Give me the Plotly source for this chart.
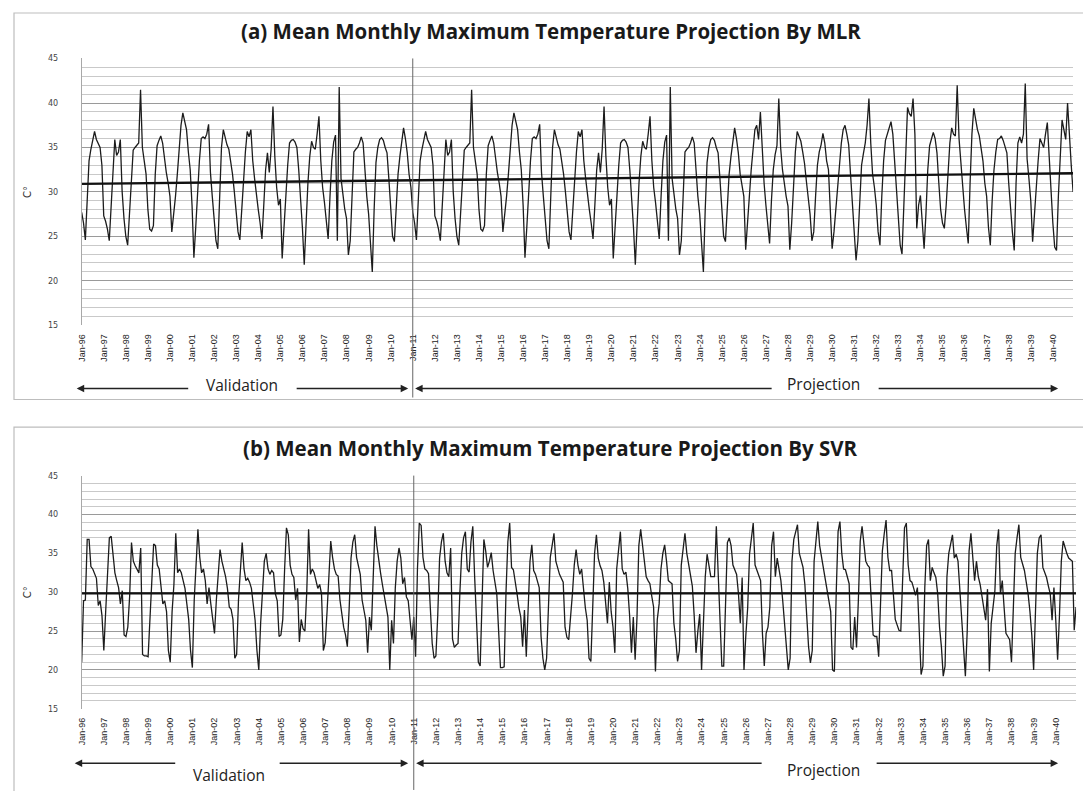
import plotly.graph_objects as go

W, H = 1091, 791          # target window
OFF = 8                   # page body margin offset
FW, FH = W - OFF, H - OFF  # figure size so that the figure ends at the window edge

# ---------------- data ----------------
tick_labels = ["Jan-96", "Jan-97", "Jan-98", "Jan-99", "Jan-00", "Jan-01", "Jan-02", "Jan-03",
               "Jan-04", "Jan-05", "Jan-06", "Jan-07", "Jan-08", "Jan-09", "Jan-10", "Jan-11",
               "Jan-12", "Jan-13", "Jan-14", "Jan-15", "Jan-16", "Jan-17", "Jan-18", "Jan-19",
               "Jan-20", "Jan-21", "Jan-22", "Jan-23", "Jan-24", "Jan-25", "Jan-26", "Jan-27",
               "Jan-28", "Jan-29", "Jan-30", "Jan-31", "Jan-32", "Jan-33", "Jan-34", "Jan-35",
               "Jan-36", "Jan-37", "Jan-38", "Jan-39", "Jan-40"]

# (a) MLR monthly values, one row per year
mlr_1996_2010 = [
    [27.7, 26.5, 24.6, 29.5, 33.5, 34.8, 36.0, 36.8, 35.9, 35.5, 35.0, 33.0],
    [27.3, 26.7, 25.8, 24.5, 28.5, 33.0, 35.9, 34.1, 34.5, 35.9, 30.0, 27.0],
    [25.0, 24.0, 27.5, 32.0, 34.7, 35.0, 35.2, 35.5, 41.5, 35.0, 33.5, 32.0],
    [28.0, 25.8, 25.6, 26.2, 32.0, 35.2, 35.8, 36.3, 35.5, 33.5, 32.2, 31.0],
    [29.5, 25.5, 27.2, 29.5, 32.0, 35.0, 37.5, 38.9, 38.0, 37.0, 34.5, 32.5],
    [28.5, 22.6, 26.0, 30.2, 33.5, 36.0, 36.2, 36.0, 36.5, 37.6, 32.2, 29.5],
    [26.5, 24.5, 23.6, 30.7, 35.0, 37.0, 36.0, 35.3, 34.8, 33.4, 32.0, 30.0],
    [28.1, 25.5, 24.6, 28.0, 31.5, 34.5, 36.8, 36.2, 37.0, 33.5, 31.5, 29.5],
    [28.0, 26.5, 24.7, 28.5, 32.5, 34.4, 32.2, 34.8, 39.6, 34.0, 30.5, 28.5],
    [29.2, 22.5, 25.5, 29.5, 33.0, 35.5, 35.8, 35.9, 35.6, 35.0, 32.5, 29.5],
    [26.0, 21.8, 27.0, 31.0, 34.0, 35.7, 35.0, 34.8, 36.5, 38.5, 33.5, 30.5],
    [28.8, 26.5, 24.7, 29.5, 33.5, 35.6, 36.4, 24.5, 41.8, 31.5, 29.5, 28.1],
    [27.0, 22.9, 24.5, 30.5, 34.5, 34.8, 35.0, 35.5, 36.2, 35.5, 32.0, 29.5],
    [27.5, 24.0, 21.0, 28.0, 33.3, 35.0, 35.9, 36.1, 35.8, 35.0, 34.4, 31.5],
    [28.8, 25.0, 24.4, 28.5, 32.0, 34.0, 35.5, 37.2, 36.0, 34.4, 32.0, 30.5],
]
mlr_2011_2025 = [
    [27.7, 26.5, 24.6, 29.5, 33.5, 34.8, 36.0, 36.8, 35.9, 35.5, 35.0, 33.0],
    [27.3, 26.7, 25.8, 24.5, 28.5, 33.0, 35.9, 34.1, 34.5, 35.9, 30.0, 27.0],
    [25.0, 24.0, 27.5, 32.0, 34.7, 35.0, 35.2, 35.5, 41.5, 35.0, 33.5, 32.0],
    [28.0, 25.8, 25.6, 26.2, 32.0, 35.2, 35.8, 36.3, 35.5, 33.5, 32.2, 31.0],
    [29.5, 25.5, 27.2, 29.5, 32.0, 35.0, 37.5, 38.9, 38.0, 37.0, 34.5, 32.5],
    [28.5, 22.6, 26.0, 30.2, 33.5, 36.0, 36.2, 36.0, 36.5, 37.6, 32.2, 29.5],
    [26.5, 24.5, 23.6, 30.7, 35.0, 37.0, 36.0, 35.3, 34.8, 33.4, 32.0, 30.0],
    [28.1, 25.5, 24.6, 28.0, 31.5, 34.5, 36.8, 36.2, 37.0, 33.5, 31.5, 29.5],
    [28.0, 26.5, 24.7, 28.5, 32.5, 34.4, 32.2, 34.8, 39.6, 34.0, 30.5, 28.5],
    [29.2, 22.5, 25.5, 29.5, 33.0, 35.5, 35.8, 35.9, 35.6, 35.0, 32.5, 29.5],
    [26.0, 21.8, 27.0, 31.0, 34.0, 35.7, 35.0, 34.8, 36.5, 38.5, 33.5, 30.5],
    [28.8, 26.5, 24.7, 29.5, 33.5, 35.6, 36.4, 24.5, 41.8, 31.5, 29.5, 28.1],
    [27.0, 22.9, 24.5, 30.5, 34.5, 34.8, 35.0, 35.5, 36.2, 35.5, 32.0, 29.5],
    [27.5, 24.0, 21.0, 28.0, 33.3, 35.0, 35.9, 36.1, 35.8, 35.0, 34.4, 31.5],
    [28.8, 25.0, 24.4, 28.5, 32.0, 34.0, 35.5, 37.2, 36.0, 34.4, 32.0, 30.5],
]
mlr_2026_2040 = [
    [29.5, 23.5, 26.0, 29.5, 32.5, 35.0, 37.0, 37.5, 35.9, 39.0, 34.0, 31.0],
    [28.5, 26.5, 24.2, 29.0, 32.5, 34.2, 35.2, 40.5, 35.0, 32.5, 30.7, 29.5],
    [28.4, 23.5, 26.5, 31.0, 34.5, 36.8, 36.2, 35.7, 34.5, 33.2, 31.2, 29.2],
    [27.5, 24.5, 25.5, 29.5, 33.0, 34.5, 35.3, 36.6, 35.5, 33.5, 32.5, 28.0],
    [23.6, 25.5, 28.0, 31.5, 34.0, 35.5, 37.0, 37.5, 36.5, 35.3, 32.0, 29.0],
    [26.0, 22.3, 24.5, 29.5, 33.0, 34.3, 35.5, 37.5, 40.5, 35.5, 32.0, 30.5],
    [28.5, 25.5, 24.0, 29.5, 33.5, 35.8, 36.5, 37.2, 37.9, 36.5, 33.5, 29.6],
    [27.0, 24.0, 23.0, 29.0, 35.5, 39.5, 38.8, 38.5, 40.5, 36.5, 25.9, 28.5],
    [29.6, 26.5, 23.6, 27.5, 32.5, 35.2, 36.0, 36.7, 36.0, 34.4, 31.0, 28.0],
    [26.5, 25.9, 28.5, 32.0, 35.5, 37.2, 36.5, 36.3, 42.0, 36.0, 33.0, 30.0],
    [28.0, 26.0, 24.2, 31.0, 36.5, 39.4, 38.0, 37.0, 36.3, 35.0, 33.5, 31.0],
    [29.5, 26.0, 24.0, 29.0, 32.5, 34.5, 35.9, 36.0, 36.3, 35.8, 35.2, 34.4],
    [31.0, 27.7, 25.5, 23.4, 31.0, 35.5, 36.2, 35.5, 36.5, 42.2, 33.7, 31.5],
    [29.0, 24.4, 27.0, 30.5, 33.5, 36.0, 35.5, 35.0, 36.5, 37.8, 34.0, 29.4],
    [26.5, 23.8, 23.4, 29.5, 34.5, 38.1, 37.0, 35.9, 40.0, 36.0, 33.0, 30.0],
]
mlr_trend_start = 30.9
mlr_trend_end = 32.1

# (b) SVR monthly values, one row per year
svr_1996_2010 = [
    [21.0, 28.9, 29.0, 36.8, 36.8, 33.3, 33.0, 32.5, 31.8, 28.3, 28.9, 27.0],
    [22.5, 27.5, 32.0, 37.0, 37.2, 34.5, 32.5, 31.5, 30.6, 28.5, 30.2, 24.5],
    [24.3, 25.5, 29.5, 36.4, 34.0, 33.4, 33.0, 32.5, 35.7, 22.0, 21.8, 21.8],
    [21.7, 26.5, 33.0, 36.2, 36.0, 33.5, 33.0, 31.0, 28.5, 28.9, 27.5, 22.5],
    [21.0, 27.5, 31.0, 37.6, 32.5, 33.0, 32.5, 31.5, 30.5, 28.5, 26.5, 22.5],
    [20.3, 29.0, 33.0, 38.1, 34.5, 32.5, 33.0, 31.5, 28.5, 30.6, 28.5, 26.5],
    [24.7, 29.0, 32.5, 35.5, 34.0, 33.0, 32.0, 30.5, 28.1, 27.8, 26.5, 21.5],
    [22.0, 29.0, 33.5, 36.4, 33.0, 31.5, 31.8, 31.3, 30.5, 28.5, 26.4, 22.5],
    [20.0, 26.0, 30.5, 34.0, 35.0, 33.0, 32.3, 32.8, 32.5, 29.8, 28.9, 24.3],
    [24.5, 26.5, 33.0, 38.3, 37.4, 33.5, 32.3, 31.9, 29.0, 30.5, 23.6, 26.5],
    [25.3, 25.0, 30.0, 38.1, 32.3, 33.0, 32.5, 31.5, 30.5, 31.0, 29.8, 22.5],
    [23.5, 27.5, 32.0, 36.6, 34.5, 33.0, 32.3, 32.1, 29.0, 27.0, 25.5, 24.5],
    [23.0, 28.0, 34.4, 36.5, 37.4, 34.5, 33.2, 32.3, 29.0, 27.7, 26.4, 22.2],
    [26.8, 25.1, 31.0, 38.5, 36.0, 34.0, 32.5, 31.0, 29.5, 27.8, 26.8, 20.0],
    [26.4, 23.4, 30.6, 34.0, 35.7, 34.4, 31.1, 31.9, 29.4, 28.9, 26.4, 23.9],
]
svr_2011_2025 = [
    [26.8, 21.7, 33.0, 38.9, 38.6, 34.5, 33.0, 32.8, 32.4, 28.0, 23.4, 21.5],
    [21.8, 27.0, 34.4, 36.5, 37.6, 34.0, 32.5, 32.0, 35.7, 24.0, 22.9, 23.2],
    [23.4, 30.0, 35.0, 37.0, 37.8, 33.0, 32.6, 36.5, 38.5, 32.0, 26.8, 21.0],
    [20.5, 29.0, 36.8, 35.3, 33.2, 34.0, 35.1, 32.8, 31.5, 29.8, 25.0, 20.3],
    [20.3, 20.4, 30.0, 36.5, 38.9, 33.2, 32.9, 31.5, 29.8, 28.0, 26.8, 23.0],
    [27.7, 21.7, 28.0, 34.0, 36.1, 32.8, 32.3, 31.5, 30.6, 24.3, 21.5, 20.0],
    [21.5, 28.0, 34.5, 36.0, 37.6, 34.0, 33.0, 32.3, 31.8, 31.3, 25.5, 24.2],
    [23.9, 26.5, 29.8, 33.5, 35.5, 33.5, 32.3, 33.0, 30.0, 28.0, 26.4, 21.5],
    [21.1, 29.0, 35.0, 37.4, 34.4, 33.4, 32.8, 31.3, 28.0, 26.0, 31.3, 27.5],
    [25.5, 22.2, 33.0, 35.5, 37.8, 33.0, 32.3, 32.6, 30.5, 27.0, 22.2, 26.8],
    [21.3, 26.8, 36.0, 38.1, 36.0, 34.5, 32.0, 31.5, 31.1, 29.5, 28.1, 19.8],
    [26.5, 28.5, 33.0, 35.0, 36.1, 34.0, 31.5, 31.3, 31.1, 26.0, 24.0, 21.1],
    [22.5, 33.5, 35.5, 37.6, 35.0, 33.5, 32.3, 30.8, 27.0, 22.2, 25.0, 27.2],
    [20.0, 26.0, 32.0, 34.9, 33.6, 32.0, 32.0, 32.0, 38.5, 32.3, 26.0, 20.5],
    [20.5, 30.0, 36.4, 37.0, 36.0, 33.5, 32.8, 32.3, 29.8, 26.0, 31.9, 20.0],
]
svr_2026_2040 = [
    [24.5, 28.0, 34.9, 37.0, 38.9, 33.5, 32.8, 32.3, 31.5, 24.7, 20.5, 24.7],
    [25.5, 28.1, 36.0, 37.8, 32.0, 34.4, 33.2, 31.5, 28.9, 26.0, 23.0, 20.0],
    [21.5, 34.0, 36.8, 37.8, 38.7, 35.0, 34.0, 33.2, 31.0, 27.0, 23.0, 20.9],
    [22.5, 34.0, 37.0, 39.1, 36.0, 34.5, 33.2, 31.5, 30.0, 28.8, 27.5, 20.0],
    [19.8, 30.0, 37.8, 39.1, 35.0, 33.0, 32.9, 32.0, 31.1, 22.9, 22.6, 26.8],
    [22.9, 29.0, 36.6, 38.5, 36.0, 34.0, 33.5, 33.2, 28.9, 24.5, 24.3, 24.3],
    [21.7, 28.0, 35.3, 37.5, 39.3, 34.5, 32.8, 32.8, 29.5, 26.5, 25.8, 25.1],
    [25.0, 33.0, 38.3, 38.9, 33.5, 31.5, 31.3, 30.5, 29.6, 30.6, 24.7, 19.4],
    [20.5, 30.6, 36.0, 36.8, 31.5, 33.2, 32.5, 31.9, 29.8, 25.5, 23.0, 19.2],
    [20.5, 32.0, 35.0, 36.5, 37.4, 34.4, 34.9, 34.0, 30.2, 26.8, 22.0, 19.2],
    [25.0, 35.3, 37.6, 35.0, 31.5, 34.0, 32.0, 31.0, 29.4, 28.0, 26.4, 30.4],
    [19.8, 26.0, 28.5, 30.2, 36.0, 38.1, 29.8, 31.5, 28.0, 24.7, 24.3, 23.9],
    [21.0, 27.0, 35.0, 37.0, 38.7, 34.5, 33.5, 32.8, 31.3, 29.8, 27.5, 24.5],
    [20.0, 27.0, 35.0, 37.0, 37.4, 33.2, 32.5, 31.9, 30.8, 29.8, 26.4, 30.6],
    [26.4, 21.3, 27.0, 34.0, 36.6, 35.7, 35.0, 34.4, 34.2, 34.0, 25.1, 28.1],
]
svr_mean_level = 29.85

split_month = 180  # Jan-11: validation | projection

# ---------------- build series ----------------
mlr = [v for block in (mlr_1996_2010, mlr_2011_2025, mlr_2026_2040) for row in block for v in row]
svr = [v for block in (svr_1996_2010, svr_2011_2025, svr_2026_2040) for row in block for v in row]
months = list(range(len(mlr)))
last = months[-1]
tickvals = [12 * i for i in range(len(tick_labels))]


def px_x(p):
    return (p - OFF) / FW


def px_y(p):
    return 1 - (p - OFF) / FH


fig = go.Figure()
line_col = "#1c1c1c"
fig.add_trace(go.Scatter(x=months, y=mlr, mode="lines", line=dict(color=line_col, width=1.3),
                         xaxis="x", yaxis="y", showlegend=False, hoverinfo="skip"))
fig.add_trace(go.Scatter(x=[0, last], y=[mlr_trend_start, mlr_trend_end], mode="lines",
                         line=dict(color="#111", width=2.4), xaxis="x", yaxis="y",
                         showlegend=False, hoverinfo="skip"))
fig.add_trace(go.Scatter(x=months, y=svr, mode="lines", line=dict(color=line_col, width=1.3),
                         xaxis="x2", yaxis="y2", showlegend=False, hoverinfo="skip"))
fig.add_trace(go.Scatter(x=[0, last], y=[svr_mean_level, svr_mean_level], mode="lines",
                         line=dict(color="#111", width=2.4), xaxis="x2", yaxis="y2",
                         showlegend=False, hoverinfo="skip"))

xaxis_common = dict(range=[0, last], tickmode="array", tickvals=tickvals, ticktext=tick_labels,
                    tickangle=-90, tickfont=dict(family="Liberation Sans", size=9, color="#222"),
                    showgrid=False, zeroline=False, showline=False, ticks="",
                    ticklabelstandoff=6)
yaxis_common = dict(range=[14.98, 45.02], tickmode="array", tickvals=[15, 20, 25, 30, 35, 40, 45],
                    ticks="", showgrid=True, gridcolor="#9a9a9a", gridwidth=1,
                    minor=dict(dtick=1, showgrid=True, gridcolor="#c9c9c9", gridwidth=1),
                    zeroline=False, showline=True, linecolor="#a8a8a8", linewidth=1,
                    tickfont=dict(family="DejaVu Sans", size=8, color="#444"),
                    ticklabelstandoff=21,
                    title=dict(text="C°", font=dict(family="DejaVu Sans", size=10, color="#333"),
                               standoff=14))

fig.update_layout(
    width=FW, height=FH, margin=dict(l=0, r=0, t=0, b=0),
    paper_bgcolor="white", plot_bgcolor="white",
    xaxis=dict(domain=[px_x(77), px_x(1073)], anchor="y", **xaxis_common),
    yaxis=dict(domain=[px_y(325), px_y(55)], anchor="x", **yaxis_common),
    xaxis2=dict(domain=[px_x(77), px_x(1076)], anchor="y2", **xaxis_common),
    yaxis2=dict(domain=[px_y(713), px_y(477)], anchor="x2", **yaxis_common),
)

shapes = [
    dict(type="rect", xref="paper", yref="paper", x0=px_x(9), x1=px_x(1088), y0=px_y(400), y1=px_y(9),
         line=dict(color="#bdbdbd", width=1.2), layer="below"),
    dict(type="rect", xref="paper", yref="paper", x0=px_x(9), x1=px_x(1088), y0=px_y(800), y1=px_y(428),
         line=dict(color="#bdbdbd", width=1.2), layer="below"),
    dict(type="line", xref="x", yref="paper", x0=split_month, x1=split_month, y0=px_y(398), y1=px_y(55),
         line=dict(color="#666", width=1)),
    dict(type="line", xref="x2", yref="paper", x0=split_month, x1=split_month, y0=px_y(795), y1=px_y(477),
         line=dict(color="#666", width=1)),
]
fig.update_layout(shapes=shapes)

title_font = dict(family="Open Sans", size=20.5, color="#1a1a1a")
ann = [
    dict(text="<b>(a) Mean Monthly Maximum Temperature Projection By MLR</b>", x=px_x(548), y=px_y(27),
         xref="paper", yref="paper", xanchor="center", yanchor="middle", showarrow=False, font=title_font),
    dict(text="<b>(b) Mean Monthly Maximum Temperature Projection By SVR</b>", x=px_x(548), y=px_y(449),
         xref="paper", yref="paper", xanchor="center", yanchor="middle", showarrow=False, font=title_font),
]

lab_font = dict(family="Open Sans", size=15.5, color="#222")
for txt, cx, cy in [("Validation", 238, 385), ("Projection", 822, 384),
                    ("Validation", 225, 780), ("Projection", 822, 775)]:
    ann.append(dict(text=txt, x=px_x(cx), y=px_y(cy), xref="paper", yref="paper",
                    xanchor="center", yanchor="middle", showarrow=False, font=lab_font))


def arrow(head, tail, y):
    return dict(x=px_x(head), y=px_y(y), ax=tail - head, ay=0, xref="paper", yref="paper",
                axref="pixel", ayref="pixel", text="", showarrow=True, arrowhead=2, arrowsize=1,
                arrowwidth=1.5, arrowcolor="#222")


ann += [arrow(72, 185, 389), arrow(405, 292, 389), arrow(412, 770, 389), arrow(1058, 877, 389),
        arrow(70, 172, 768), arrow(405, 275, 768), arrow(413, 760, 768), arrow(1058, 875, 768)]

fig.update_layout(annotations=ann)
fig.write_html("out.html")
